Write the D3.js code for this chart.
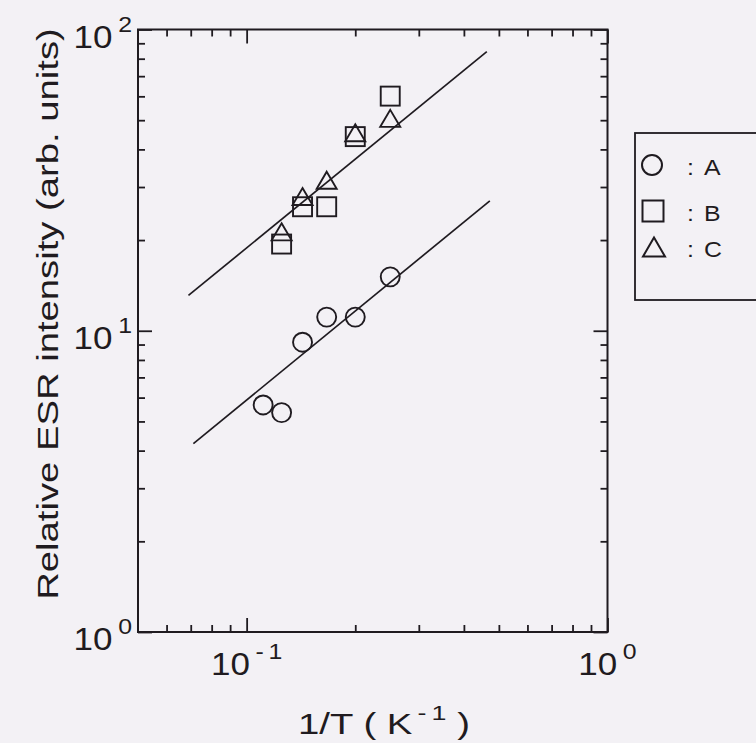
<!DOCTYPE html>
<html>
<head>
<meta charset="utf-8">
<script src="https://cdn.jsdelivr.net/npm/d3@7/dist/d3.min.js"></script>
<style>
  html, body { margin: 0; padding: 0; background: #f3f1f5; }
  svg { display: block; }
  text { font-family: "Liberation Sans", Arial, sans-serif; fill: #1f1b20; }
</style>
</head>
<body>
<svg id="chart" width="756" height="743"></svg>
<script>
// Inverse temperature 1/T (K^-1) for T = 9, 8, 7, 6, 5, 4 K
const invT = [1/9, 1/8, 1/7, 1/6, 1/5, 1/4];

// Relative ESR intensity (arb. units) for each sample
const seriesA = [5.67, 5.35, 9.16, 11.1, 11.1, 15.1];
const invTB   = [1/8, 1/7, 1/6, 1/5, 1/4];
const seriesB = [19.4, 25.8, 25.8, 44.1, 60.1];
const invTC   = [1/8, 1/7, 1/6, 1/5, 1/4];
const seriesC = [21.3, 27.9, 31.6, 45.4, 50.7];

// Fitted straight lines (log-log), end points
const fitUpperX = [0.069, 0.463];
const fitUpperY = [13.1, 84.4];
const fitLowerX = [0.0712, 0.472];
const fitLowerY = [4.22, 27.0];

// Axis ticks
const xMajor = [0.1, 1];
const xMinor = [0.06, 0.07, 0.08, 0.09, 0.2, 0.3, 0.4, 0.5, 0.6, 0.7, 0.8, 0.9];
const yMajor = [1, 10, 100];
const yMinor = [2, 3, 4, 5, 6, 7, 8, 9, 20, 30, 40, 50, 60, 70, 80, 90];
const xTickLabels = [{v: 0.1, e: ["-", "1"]}, {v: 1, e: ["0"]}];
const yTickLabels = [{v: 1, e: ["0"]}, {v: 10, e: ["1"]}, {v: 100, e: ["2"]}];

const legendItems = [
  {shape: "circle", label: "A"},
  {shape: "square", label: "B"},
  {shape: "triangle", label: "C"}
];

const ink = "#1f1b20";
const svg = d3.select("#chart");

const pLeft = 138, pRight = 607.5, pTop = 29.5, pBottom = 632;
const x = d3.scaleLog().domain([0.05, 1]).range([pLeft, pRight]);
const y = d3.scaleLog().domain([1, 100]).range([pBottom, pTop]);

// wide sans text: glyphs stretched along the writing direction
const widen = 1.13;
function placeText(px, py, size, anchor, rot = 0, sx = widen) {
  return svg.append("text")
    .attr("transform", `translate(${px},${py}) rotate(${rot}) scale(${sx},1)`)
    .attr("text-anchor", anchor)
    .style("font-size", size + "px");
}

// Frame
svg.append("rect")
  .attr("x", pLeft).attr("y", pTop)
  .attr("width", pRight - pLeft).attr("height", pBottom - pTop)
  .attr("fill", "none").attr("stroke", ink).attr("stroke-width", 2);

function styleAxis(g) {
  g.select(".domain").remove();
  g.selectAll(".tick line").attr("stroke", ink).attr("stroke-width", 1.8);
  g.selectAll(".tick text").remove();
}

const major = 14, minor = 7;
// inward ticks on all four sides
[[xMajor, major], [xMinor, minor]].forEach(([vals, len]) => {
  svg.append("g").attr("transform", `translate(0,${pBottom})`)
    .call(d3.axisBottom(x).tickValues(vals).tickSize(-len).tickFormat(""))
    .call(styleAxis);
  svg.append("g").attr("transform", `translate(0,${pTop})`)
    .call(d3.axisTop(x).tickValues(vals).tickSize(-len).tickFormat(""))
    .call(styleAxis);
});
[[yMajor, major], [yMinor, minor]].forEach(([vals, len]) => {
  svg.append("g").attr("transform", `translate(${pLeft},0)`)
    .call(d3.axisLeft(y).tickValues(vals).tickSize(-len).tickFormat(""))
    .call(styleAxis);
  svg.append("g").attr("transform", `translate(${pRight},0)`)
    .call(d3.axisRight(y).tickValues(vals).tickSize(-len).tickFormat(""))
    .call(styleAxis);
});

// Power-of-ten tick labels
const baseSize = 31, supSize = 22;
function powerLabel(t, exp) {
  t.append("tspan").text("10");
  exp.forEach((s, i) => {
    t.append("tspan").attr("dx", i === 0 ? 5 : 4).attr("dy", i === 0 ? -16 : 0)
      .style("font-size", supSize + "px").text(s);
  });
}
xTickLabels.forEach(d => {
  powerLabel(placeText(x(d.v), pBottom + 43, baseSize, "middle"), d.e);
});
yTickLabels.forEach(d => {
  powerLabel(placeText(pLeft - 6, y(d.v) + 18, baseSize, "end"), d.e);
});

// Axis titles, stretched to their printed extent
const xt = placeText(384, 734, 30, "middle", 0, 1);
xt.append("tspan").text("1/T ( K");
xt.append("tspan").attr("dx", 4).attr("dy", -14).style("font-size", "21px").text("-");
xt.append("tspan").attr("dx", 4).style("font-size", "21px").text("1");
xt.append("tspan").attr("dy", 14).text(" )");
const xtw = xt.node().getBBox().width;
xt.attr("transform", `translate(384,734) scale(${172 / xtw},1)`);

const yt = placeText(58, 314, 30, "middle", -90, 1)
  .text("Relative ESR intensity (arb. units)");
const ytw = yt.node().getBBox().width;
yt.attr("transform", `translate(58,314) rotate(-90) scale(${572 / ytw},1)`);

// Fitted lines
const line = d3.line().x(d => x(d[0])).y(d => y(d[1]));
[[fitUpperX, fitUpperY], [fitLowerX, fitLowerY]].forEach(([xs, ys]) => {
  svg.append("path")
    .attr("d", line(d3.zip(xs, ys)))
    .attr("fill", "none").attr("stroke", ink).attr("stroke-width", 1.7);
});

// Markers
const r = 9.5, sq = 19, tw = 20, th = 17;
const triPath = (w, h) => `M0,${-h / 2}L${w / 2},${h / 2}L${-w / 2},${h / 2}Z`;
const markW = 1.9;

svg.append("g").selectAll("circle")
  .data(d3.zip(invT, seriesA)).join("circle")
  .attr("cx", d => x(d[0])).attr("cy", d => y(d[1])).attr("r", r)
  .attr("fill", "none").attr("stroke", ink).attr("stroke-width", markW);

svg.append("g").selectAll("rect")
  .data(d3.zip(invTB, seriesB)).join("rect")
  .attr("x", d => x(d[0]) - sq / 2).attr("y", d => y(d[1]) - sq / 2)
  .attr("width", sq).attr("height", sq)
  .attr("fill", "none").attr("stroke", ink).attr("stroke-width", markW);

svg.append("g").selectAll("path")
  .data(d3.zip(invTC, seriesC)).join("path")
  .attr("d", triPath(tw, th))
  .attr("transform", d => `translate(${x(d[0])},${y(d[1])})`)
  .attr("fill", "none").attr("stroke", ink).attr("stroke-width", markW);

// Legend
const lg = svg.append("g");
lg.append("rect")
  .attr("x", 635).attr("y", 133).attr("width", 160).attr("height", 167)
  .attr("fill", "none").attr("stroke", ink).attr("stroke-width", 1.8);
const rowY = [165, 211, 247];
legendItems.forEach((d, i) => {
  const cy = rowY[i], cx = 653;
  if (d.shape === "circle") {
    lg.append("circle").attr("cx", cx - 1).attr("cy", cy).attr("r", 10)
      .attr("fill", "none").attr("stroke", ink).attr("stroke-width", 2);
  } else if (d.shape === "square") {
    lg.append("rect").attr("x", cx - 10.5).attr("y", cy - 10.5).attr("width", 21).attr("height", 21)
      .attr("fill", "none").attr("stroke", ink).attr("stroke-width", 2);
  } else {
    lg.append("path").attr("d", triPath(22, 19))
      .attr("transform", `translate(${cx + 1},${cy})`)
      .attr("fill", "none").attr("stroke", ink).attr("stroke-width", 2);
  }
  placeText(687, cy + 10, 22, "start").text(":");
  placeText(704, cy + 10, 22, "start").text(d.label);
});
</script>
</body>
</html>
